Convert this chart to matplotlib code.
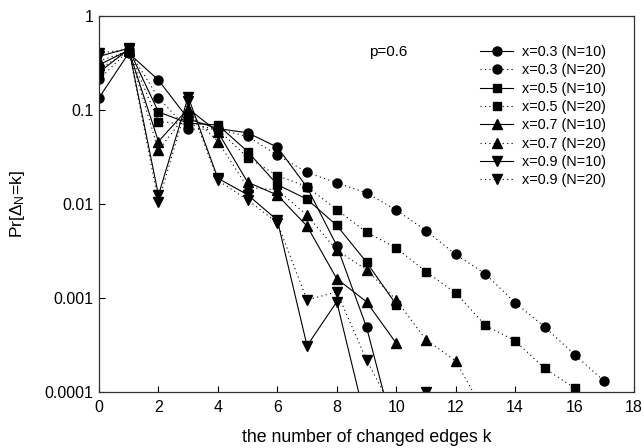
import matplotlib
matplotlib.use("Agg")
import matplotlib.pyplot as plt

plt.rcParams['font.family'] = ['Liberation Sans', 'DejaVu Sans']
plt.rcParams['mathtext.fontset'] = 'custom'
plt.rcParams['mathtext.rm'] = 'Liberation Sans'

# Pr[Delta_N = k] for p=0.6, one list per (x, N) curve, k starting at 0
x03_n10 = [0.134, 0.40, 0.207, 0.080, 0.063, 0.057, 0.040, 0.015, 0.0036, 0.00049, 0.00003]
x03_n20 = [0.21, 0.43, 0.134, 0.062, 0.062, 0.052, 0.033, 0.0216, 0.0167, 0.0131,
           0.0086, 0.0052, 0.0029, 0.0018, 0.00089, 0.00049, 0.00025, 0.00013]
x05_n10 = [0.25, 0.44, 0.095, 0.072, 0.069, 0.036, 0.016, 0.0112, 0.0059, 0.0024, 0.00085]
x05_n20 = [0.27, 0.42, 0.075, 0.070, 0.062, 0.031, 0.020, 0.0152, 0.0087, 0.0050,
           0.0034, 0.0019, 0.00113, 0.00051, 0.00035, 0.000178, 0.00011, 0.00006]
x07_n10 = [0.30, 0.43, 0.046, 0.103, 0.058, 0.017, 0.0124, 0.0058, 0.0016, 0.00091, 0.00033]
x07_n20 = [0.33, 0.42, 0.037, 0.095, 0.046, 0.015, 0.014, 0.0076, 0.0032, 0.0020,
           0.00095, 0.00036, 0.000214, 0.000058]
x09_n10 = [0.37, 0.45, 0.0124, 0.137, 0.0187, 0.0125, 0.0067, 0.00031, 0.00091, 0.000045]
x09_n20 = [0.40, 0.44, 0.0105, 0.125, 0.0178, 0.011, 0.0063, 0.00095, 0.00116, 0.00022,
           0.000055, 0.0001]

series = [
    ('x=0.3 (N=10)', x03_n10, 'o', '-'),
    ('x=0.3 (N=20)', x03_n20, 'o', ':'),
    ('x=0.5 (N=10)', x05_n10, 's', '-'),
    ('x=0.5 (N=20)', x05_n20, 's', ':'),
    ('x=0.7 (N=10)', x07_n10, '^', '-'),
    ('x=0.7 (N=20)', x07_n20, '^', ':'),
    ('x=0.9 (N=10)', x09_n10, 'v', '-'),
    ('x=0.9 (N=20)', x09_n20, 'v', ':'),
]
marker_sizes = {'o': 6.5, 's': 5.5, '^': 6.5, 'v': 6.5}

fig = plt.figure(figsize=(6.44, 4.48), dpi=100)
ax = fig.add_axes([99 / 644, 1 - 392 / 448, 535 / 644, (392 - 15.7) / 448])

for label, vals, mk, ls in series:
    ks = list(range(len(vals)))
    style = '-' if ls == '-' else (0, (1, 3))
    ax.plot(ks, vals, color='black', linestyle=style, linewidth=0.8,
            marker=mk, markersize=marker_sizes[mk], label=label)

ax.set_yscale('log')
ax.set_xlim(0, 18)
ax.set_ylim(1e-4, 1)
ax.set_xticks(range(0, 19, 2))
ax.set_yticks([1e-4, 1e-3, 1e-2, 1e-1, 1])
ax.set_yticklabels(['0.0001', '0.001', '0.01', '0.1', '1'])
ax.minorticks_off()
ax.tick_params(direction='in', length=4, width=0.8, labelsize=11.5)
ax.tick_params(axis='x', pad=5.5)
ax.tick_params(axis='y', pad=4)
for sp in ax.spines.values():
    sp.set_linewidth(0.9)
    sp.set_color('#333333')

ax.text(9.73, 0.41, 'p=0.6', ha='center', va='center', fontsize=11)

ax.set_xlabel('the number of changed edges k', fontsize=12.8)
ax.set_ylabel(r'Pr[$\mathregular{\Delta_N}$=k]', fontsize=12.5)
ax.xaxis.label.set_va('center')
ax.yaxis.label.set_va('center')
ax.xaxis.set_label_coords(0.5, (392 - 437) / 376)
ax.yaxis.set_label_coords((17 - 99) / 535, 0.5)

ax.legend(loc='upper left', bbox_to_anchor=(480 / 644, 1 - 45 / 448),
          bbox_transform=fig.transFigure, frameon=False, fontsize=10.4,
          handlelength=2.3, handletextpad=0.6, labelspacing=0.3,
          borderpad=0, borderaxespad=0)

fig.savefig('out.png', dpi=100)
